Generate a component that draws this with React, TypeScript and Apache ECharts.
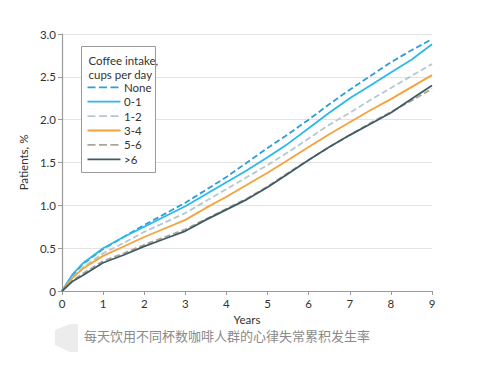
import React, { useEffect, useRef } from "react";
import * as echarts from "echarts";

const years = [0, 0.25, 0.5, 1, 1.5, 2, 2.5, 3, 3.5, 4, 4.5, 5, 5.5, 6, 6.5, 7, 7.5, 8, 8.5, 9];
const seriesNames = ["None", "0-1", "1-2", "3-4", "5-6", ">6"];
const noneVals = [0, 0.18, 0.31, 0.49, 0.63, 0.77, 0.9, 1.03, 1.18, 1.33, 1.5, 1.67, 1.83, 2.0, 2.18, 2.35, 2.51, 2.67, 2.81, 2.94];
const cup01Vals = [0, 0.19, 0.32, 0.5, 0.63, 0.75, 0.87, 0.99, 1.13, 1.27, 1.41, 1.56, 1.72, 1.9, 2.08, 2.25, 2.4, 2.55, 2.7, 2.88];
const cup12Vals = [0, 0.15, 0.27, 0.44, 0.56, 0.69, 0.8, 0.91, 1.05, 1.19, 1.33, 1.47, 1.62, 1.78, 1.94, 2.08, 2.23, 2.37, 2.51, 2.65];
const cup34Vals = [0, 0.15, 0.26, 0.41, 0.52, 0.63, 0.73, 0.83, 0.97, 1.1, 1.24, 1.38, 1.53, 1.68, 1.83, 1.97, 2.11, 2.24, 2.38, 2.52];
const cup56Vals = [0, 0.12, 0.2, 0.35, 0.44, 0.54, 0.63, 0.72, 0.84, 0.96, 1.08, 1.22, 1.38, 1.53, 1.68, 1.82, 1.96, 2.09, 2.22, 2.36];
const cup6Vals = [0, 0.11, 0.18, 0.33, 0.42, 0.52, 0.61, 0.7, 0.83, 0.95, 1.07, 1.21, 1.37, 1.53, 1.68, 1.82, 1.95, 2.08, 2.24, 2.4];
const yTicks = [0, 0.5, 1.0, 1.5, 2.0, 2.5, 3.0];
const xTicks = [0, 1, 2, 3, 4, 5, 6, 7, 8, 9];

const allVals = [noneVals, cup01Vals, cup12Vals, cup34Vals, cup56Vals, cup6Vals];
const colors = ["#2c9ed8", "#2bb8ea", "#b5c8d1", "#f5a23a", "#a9a699", "#3f5b64"];
const dashed = [true, false, true, false, true, false];

export default function App() {
  const ref = useRef<HTMLDivElement>(null);
  useEffect(() => {
    if (!ref.current) return;
    const chart = echarts.init(ref.current, undefined, { renderer: "svg" });
    const font = "Lato, 'Open Sans', sans-serif";

    const legendItems: any[] = [];
    seriesNames.forEach((name, i) => {
      const y = 87.3 + i * 14.4;
      legendItems.push({
        type: "line",
        shape: { x1: 87.5, y1: y, x2: 120.5, y2: y },
        style: {
          stroke: colors[i],
          lineWidth: 1.8,
          lineDash: dashed[i] ? [8, 3.5] : null,
        },
        z: 5,
      });
      legendItems.push({
        type: "text",
        x: 124,
        y: y,
        style: {
          text: name,
          fill: "#333",
          font: "11.5px " + font,
          verticalAlign: "middle",
          textAlign: "left",
        },
        z: 5,
      });
    });

    chart.setOption({
      animation: false,
      backgroundColor: "#ffffff",
      grid: { left: 62, right: 59, top: 34, bottom: 76 },
      xAxis: {
        type: "value",
        min: 0,
        max: 9,
        interval: 1,
        name: "Years",
        nameLocation: "middle",
        nameGap: 20,
        nameTextStyle: { color: "#333", fontSize: 11.5, fontFamily: font },
        axisLine: { show: true, lineStyle: { color: "#9a9a9a", width: 1.2 } },
        axisTick: { show: true, length: 4, lineStyle: { color: "#9a9a9a" } },
        axisLabel: {
          color: "#333",
          fontSize: 11.5,
          fontFamily: font,
          margin: 6,
          formatter: (v: number) => (xTicks.includes(v) ? String(v) : ""),
        },
        splitLine: { show: false },
      },
      yAxis: {
        type: "value",
        min: 0,
        max: 3,
        interval: 0.5,
        name: "Patients, %",
        nameLocation: "middle",
        nameGap: 25,
        nameTextStyle: { color: "#333", fontSize: 11.5, fontFamily: font },
        axisLine: { show: true, lineStyle: { color: "#9a9a9a", width: 1.2 } },
        axisTick: { show: true, length: 4, lineStyle: { color: "#9a9a9a" } },
        axisLabel: {
          color: "#333",
          fontSize: 11.5,
          fontFamily: font,
          margin: 6,
          formatter: (v: number) => {
            const t = yTicks.find((y) => Math.abs(y - v) < 1e-6);
            if (t === undefined) return "";
            return t === 0 ? "0" : t.toFixed(1);
          },
        },
        splitLine: { show: true, lineStyle: { color: "#e3e3e3", width: 1 } },
      },
      graphic: [
        {
          type: "rect",
          shape: { x: 81.5, y: 46.5, width: 74, height: 126 },
          style: { fill: "#ffffff", stroke: "#9a9a9a", lineWidth: 1 },
          z: 4,
        },
        {
          type: "text",
          x: 88.5,
          y: 53,
          style: {
            text: "Coffee intake,\ncups per day",
            fill: "#333",
            font: "11.5px " + font,
            lineHeight: 14,
          },
          z: 5,
        },
        ...legendItems,
        {
          type: "polygon",
          shape: { points: [[55, 330], [70, 324], [78, 324], [78, 352], [70, 352], [55, 345]] },
          style: { fill: "#ececec" },
        },
        {
          type: "text",
          x: 84,
          y: 329,
          style: {
            text: "每天饮用不同杯数咖啡人群的心律失常累积发生率",
            fill: "#8a8a8a",
            font: "13px 'Noto Sans CJK SC', sans-serif",
          },
        },
      ],
      series: seriesNames.map((name, i) => ({
        name,
        type: "line",
        data: years.map((x, j) => [x, allVals[i][j]]),
        showSymbol: false,
        symbol: "none",
        color: colors[i],
        lineStyle: {
          color: colors[i],
          width: 1.8,
          type: dashed[i] ? [6, 3] : "solid",
        },
        z: 2,
      })),
    });
    return () => chart.dispose();
  }, []);
  return (
    <div
      ref={ref}
      style={{ position: "fixed", left: 0, top: 0, width: 491, height: 367, background: "#fff" }}
    />
  );
}
